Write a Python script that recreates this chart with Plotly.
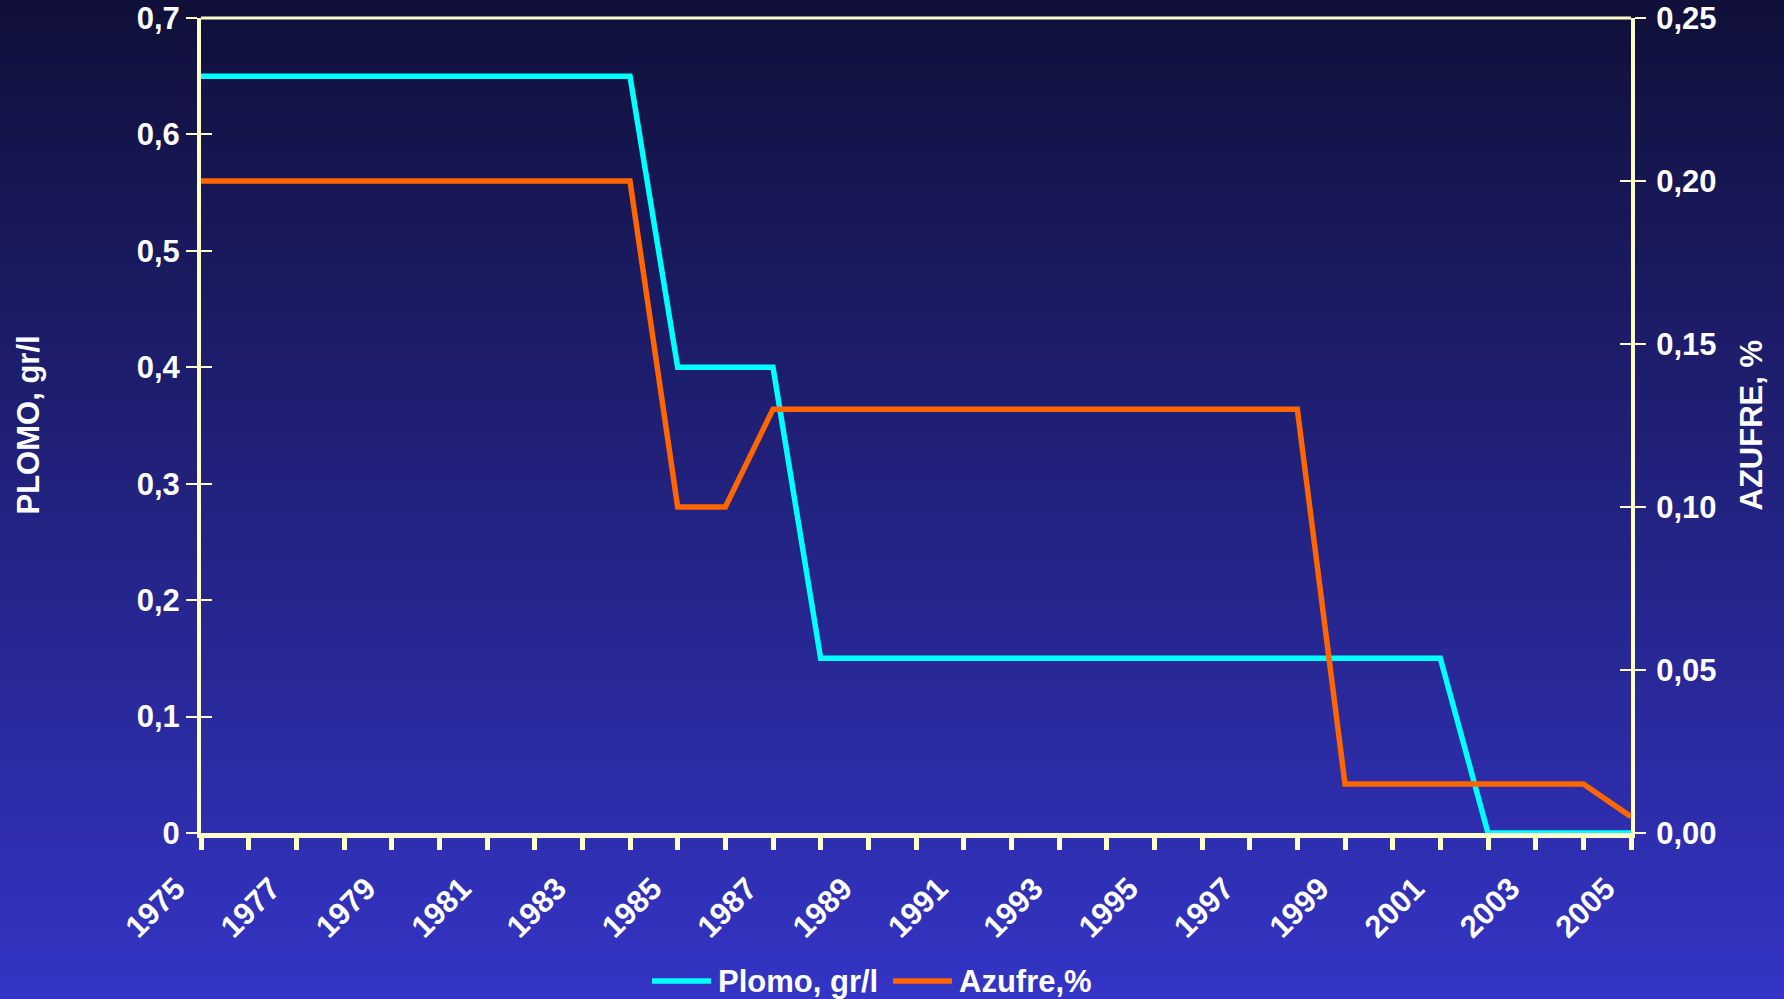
import base64, struct, zlib
import plotly.graph_objects as go

years = list(range(1975, 2006))
plomo = [0.65, 0.65, 0.65, 0.65, 0.65, 0.65, 0.65, 0.65, 0.65, 0.65,
         0.40, 0.40, 0.40,
         0.15, 0.15, 0.15, 0.15, 0.15, 0.15, 0.15, 0.15, 0.15, 0.15, 0.15, 0.15, 0.15, 0.15,
         0.0, 0.0, 0.0, 0.0]
azufre = [0.20, 0.20, 0.20, 0.20, 0.20, 0.20, 0.20, 0.20, 0.20, 0.20,
          0.10, 0.10,
          0.13, 0.13, 0.13, 0.13, 0.13, 0.13, 0.13, 0.13, 0.13, 0.13, 0.13, 0.13,
          0.015, 0.015, 0.015, 0.015, 0.015, 0.015,
          0.005]
left_ticks = [0, 0.1, 0.2, 0.3, 0.4, 0.5, 0.6, 0.7]
left_labels = ["0", "0,1", "0,2", "0,3", "0,4", "0,5", "0,6", "0,7"]
right_ticks = [0, 0.05, 0.10, 0.15, 0.20, 0.25]
right_labels = ["0,00", "0,05", "0,10", "0,15", "0,20", "0,25"]
x_labels = [str(y) if (y - 1975) % 2 == 0 else "" for y in years]
series_names = ["Plomo, gr/l", "Azufre,%"]
series_colors = ["#00FFFF", "#FF6600"]

CREAM = "#FFFFCC"
FONT = "Liberation Sans, Arial, sans-serif"
FS = 31


def gradient_png(top, bottom, h=256):
    rows = b""
    for i in range(h):
        t = i / (h - 1)
        c = bytes(int(round(top[k] + (bottom[k] - top[k]) * t)) for k in range(3))
        rows += b"\x00" + c
    def chunk(tag, data):
        return struct.pack(">I", len(data)) + tag + data + struct.pack(">I", zlib.crc32(tag + data) & 0xffffffff)
    png = b"\x89PNG\r\n\x1a\n" + chunk(b"IHDR", struct.pack(">IIBBBBB", 1, h, 8, 2, 0, 0, 0))
    png += chunk(b"IDAT", zlib.compress(rows)) + chunk(b"IEND", b"")
    return "data:image/png;base64," + base64.b64encode(png).decode()


W, H = 1784, 999
x0, x1 = 201 / W, 1631 / W
y0, y1 = 1 - 833 / H, 1 - 18 / H

fig = go.Figure()
fig.add_trace(go.Scatter(x=years, y=plomo, name=series_names[0], mode="lines",
                         line=dict(color=series_colors[0], width=5.5), xaxis="x", yaxis="y"))
fig.add_trace(go.Scatter(x=years, y=azufre, name=series_names[1], mode="lines",
                         line=dict(color=series_colors[1], width=5.5), xaxis="x", yaxis="y2"))
# helper empty traces so that inner tick axes render
fig.add_trace(go.Scatter(x=[], y=[], xaxis="x", yaxis="y3", showlegend=False, hoverinfo="skip"))
fig.add_trace(go.Scatter(x=[], y=[], xaxis="x", yaxis="y4", showlegend=False, hoverinfo="skip"))

tickfont = dict(family=FONT, size=FS, color="white", weight="bold")

# legend drawn as shapes + annotations (sample line, then label)
legend_y = 1 - 981 / H
legend_samples = [(652 / W, 711 / W, 716 / W), (893 / W, 952 / W, 957 / W)]
legend_shapes = []
legend_annots = []
for (sx0, sx1, tx), name, col in zip(legend_samples, series_names, series_colors):
    legend_shapes.append(dict(type="line", xref="paper", yref="paper", x0=sx0, x1=sx1,
                              y0=legend_y, y1=legend_y, line=dict(color=col, width=5.5)))
    legend_annots.append(dict(text=name, xref="paper", yref="paper", x=tx, y=legend_y,
                              xanchor="left", yanchor="middle", showarrow=False,
                              font=dict(family=FONT, size=FS, color="white", weight="bold")))

fig.update_layout(
    width=W, height=H,
    margin=dict(l=0, r=0, t=0, b=0, autoexpand=False),
    paper_bgcolor="rgb(52,52,198)",
    plot_bgcolor="rgba(0,0,0,0)",
    showlegend=False,
    xaxis=dict(domain=[x0, x1], range=[1975, 2005], tickvals=years, ticktext=x_labels,
               tickangle=-45, ticks="outside", ticklen=12, tickwidth=5, tickcolor=CREAM,
               ticklabelshift=-25, ticklabelstandoff=8,
               showline=True, linecolor=CREAM, linewidth=5, showgrid=False, zeroline=False,
               tickfont=tickfont, automargin=False, anchor="y"),
    yaxis=dict(domain=[y0, y1], range=[0, 0.7], tickvals=left_ticks, ticktext=left_labels,
               ticks="outside", ticklen=11, tickwidth=1.5, tickcolor=CREAM,
               showline=True, linecolor=CREAM, linewidth=4, showgrid=False, zeroline=False,
               tickfont=tickfont, automargin=False, anchor="x"),
    yaxis2=dict(domain=[y0, y1], range=[0, 0.25], tickvals=right_ticks, ticktext=right_labels,
                overlaying="y", side="right", anchor="x",
                ticks="outside", ticklen=11, tickwidth=1.5, tickcolor=CREAM,
                ticklabelstandoff=4,
                showline=True, linecolor=CREAM, linewidth=4, showgrid=False, zeroline=False,
                tickfont=tickfont, automargin=False),
    yaxis3=dict(range=[0, 0.7], tickvals=left_ticks, overlaying="y", side="left", anchor="x",
                ticks="inside", ticklen=11, tickwidth=1.5, tickcolor=CREAM, showticklabels=False,
                showline=False, showgrid=False, zeroline=False, automargin=False),
    yaxis4=dict(range=[0, 0.25], tickvals=right_ticks, overlaying="y", side="right", anchor="x",
                ticks="inside", ticklen=11, tickwidth=1.5, tickcolor=CREAM, showticklabels=False,
                showline=False, showgrid=False, zeroline=False, automargin=False),
    images=[dict(source=gradient_png((16, 16, 58), (52, 52, 198)), xref="paper", yref="paper",
                 x=0, y=1, sizex=1, sizey=1, sizing="stretch", xanchor="left", yanchor="top",
                 layer="below")],
    shapes=[dict(type="line", xref="paper", yref="paper", x0=x0, x1=x1, y0=y1, y1=y1,
                 line=dict(color=CREAM, width=3))] + legend_shapes,
    annotations=[
        dict(text="PLOMO, gr/l", xref="paper", yref="paper", x=28 / W, y=(y0 + y1) / 2,
             textangle=-90, showarrow=False, xanchor="center", yanchor="middle",
             font=dict(family=FONT, size=FS, color="white", weight="bold")),
        dict(text="AZUFRE, %", xref="paper", yref="paper", x=1751 / W, y=(y0 + y1) / 2,
             textangle=-90, showarrow=False, xanchor="center", yanchor="middle",
             font=dict(family=FONT, size=FS, color="white", weight="bold")),
    ] + legend_annots,
)

fig.write_html("out.html", config={"displayModeBar": False},
               post_script="document.body.style.margin='0';document.body.style.overflow='hidden';")
